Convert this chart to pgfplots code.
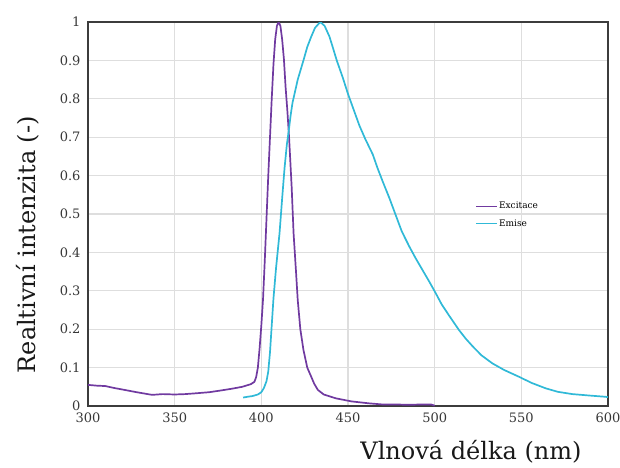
\documentclass[border=0pt]{standalone}
\usepackage{pgfplots}
\pgfplotsset{compat=1.18}
\usepackage{fontspec}
\setmainfont{DejaVu Serif}
\definecolor{exc}{RGB}{112,58,160}
\definecolor{emi}{RGB}{48,185,215}
\definecolor{gridc}{RGB}{222,222,222}
\definecolor{frame}{RGB}{60,60,60}
\definecolor{tickc}{RGB}{55,55,55}
\begin{document}
\begin{tikzpicture}
\path[use as bounding box] (-88pt,-61pt) rectangle (532pt,406pt);
\begin{axis}[
  at={(0,0)}, anchor=south west,
  scale only axis, width=520pt, height=384pt,
  xmin=300, xmax=600, ymin=0, ymax=1,
  xtick={300,350,...,600},
  ytick={0,0.1,...,1.01},
  grid=major,
  major grid style={line width=1.1pt, color=gridc},
  major tick length=0pt,
  axis line style={line width=1.4pt, color=frame},
  /pgf/number format/assume math mode=true,
  tick label style={font=\fontsize{13}{15}\selectfont, color=tickc},
  yticklabel style={xshift=-4pt},
  xticklabel style={yshift=-3pt},
  xlabel={Vlnová délka (nm)},
  ylabel={Realtivní intenzita (-)},
  label style={font=\fontsize{24}{28}\selectfont, color=black!90},
  xlabel style={at={(rel axis cs:0.7365,-0.118)}, anchor=center},
  ylabel style={at={(rel axis cs:-0.1154,0.42)}, anchor=center, rotate=0},
  legend style={draw=none, fill=none, at={(rel axis cs:0.745,0.4975)}, anchor=west,
    font=\fontsize{9}{10}\selectfont, row sep=7pt, inner sep=0pt,
    nodes={inner sep=1pt}},
  legend cell align=left,
  legend image code/.code={\draw[#1, line width=1.5pt] (0pt,0pt) -- (21pt,0pt);},
]
\addplot[exc, line width=1.7pt, line join=round] coordinates {
(300,0.055)(305,0.053)(310,0.052)(315,0.047)(321,0.042)(328,0.036)(337,0.029)
(343,0.031)(350,0.030)(356,0.031)(362,0.033)(370,0.036)(376,0.040)(383,0.045)
(389,0.050)(394,0.057)(396,0.063)(397,0.075)(398,0.10)(399,0.15)(400,0.21)
(401,0.28)(402,0.38)(403,0.49)(404,0.60)(405,0.70)(406,0.80)(407,0.89)(408,0.955)
(409,0.99)(410,1.0)(411,0.99)(412,0.955)(413,0.905)(414,0.83)(415,0.77)(416,0.70)
(417.5,0.57)(418.6,0.45)(420,0.35)(421,0.276)(422.5,0.20)(424.3,0.146)
(426.5,0.10)(428.8,0.076)(430.5,0.058)(432.6,0.042)(436,0.03)(443,0.02)
(452,0.012)(462,0.007)(470,0.004)(478,0.004)(485,0.003)(492,0.004)(498,0.004)(500,0.001)
};
\addlegendentry{Excitace}
\addplot[emi, line width=1.7pt, line join=round] coordinates {
(389.5,0.022)(392,0.024)(395,0.026)(398,0.030)(400,0.036)(401.5,0.047)(403,0.065)
(404,0.09)(405,0.14)(406,0.21)(407,0.28)(408.5,0.36)(410.5,0.45)(412,0.54)
(413.4,0.62)(414.7,0.68)(415.9,0.72)(417,0.76)(418,0.79)(419.2,0.814)(421,0.85)
(424.3,0.90)(426.5,0.935)(428.8,0.962)(431,0.985)(434,1.0)(436.5,0.99)
(439.3,0.962)(441.5,0.93)(443.5,0.90)(447,0.855)(449.9,0.814)(453,0.775)
(456.6,0.73)(460,0.695)(464.3,0.655)(467,0.62)(470,0.585)(474,0.54)(477.7,0.495)
(481,0.455)(485.4,0.415)(489,0.385)(493,0.354)(497,0.323)(500.7,0.293)(504,0.265)
(508.4,0.235)(514,0.198)(518,0.175)(522,0.155)(527,0.132)(533.3,0.111)
(540,0.094)(548.7,0.076)(556,0.060)(564.1,0.046)(571,0.037)(579.4,0.031)
(590,0.027)(598.6,0.024)(600,0.023)
};
\addlegendentry{Emise}
\end{axis}
\end{tikzpicture}
\end{document}
